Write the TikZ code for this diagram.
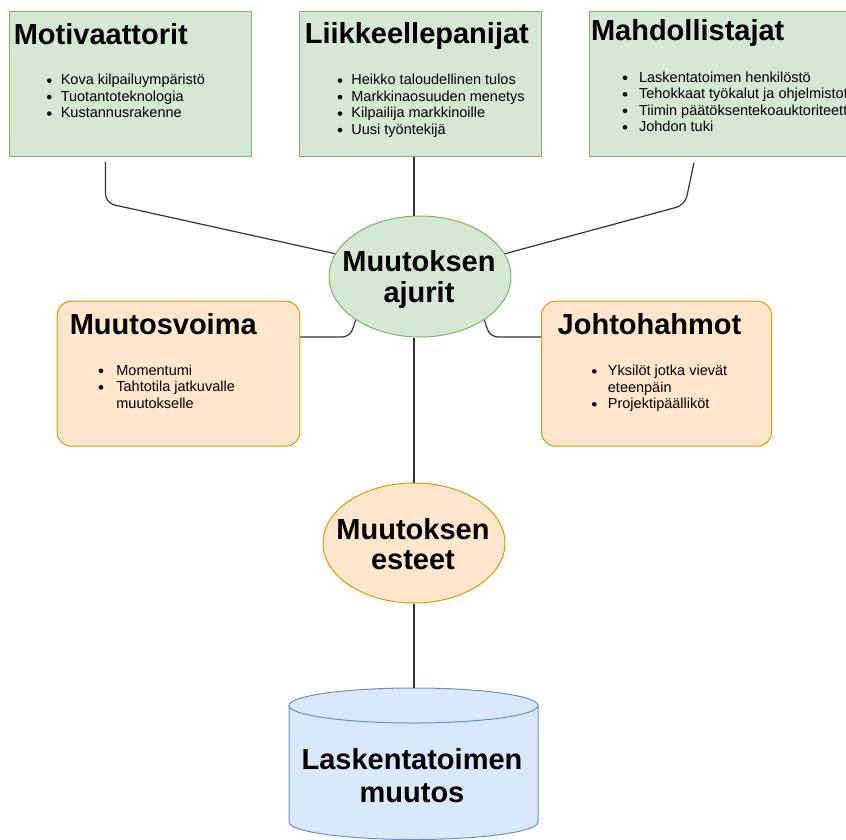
\documentclass[tikz,border=0pt]{standalone}
\usepackage{fontspec}
\setmainfont{Liberation Sans}
\usetikzlibrary{shapes.geometric,calc}

\definecolor{greenfill}{HTML}{D5E8D4}
\definecolor{greenline}{HTML}{82B366}
\definecolor{orangefill}{HTML}{FFE6CC}
\definecolor{orangeline}{HTML}{D79B00}
\definecolor{bluefill}{HTML}{DAE8FC}
\definecolor{blueline}{HTML}{6C8EBF}
\definecolor{wire}{HTML}{333333}

% one bullet line: name, dot x, text x, baseline y, text
\newcommand\bulletitem[5]{%
  \fill[bulletdot] (#2,#4-4.2) circle[radius=2.3];
  \node[itemtext] (#1) at (#3,#4) {#5};}
% continuation line of a bullet (no dot)
\newcommand\bulletmore[4]{%
  \node[itemtext] (#1) at (#2,#3) {#4};}

\begin{document}
\begin{tikzpicture}[x=1pt,y=-1pt,
  greenbox/.style={draw=greenline, fill=greenfill, line width=1pt, inner sep=0pt, anchor=north west},
  orangebox/.style={draw=orangeline, fill=orangefill, line width=1pt, inner sep=0pt, anchor=north west, rounded corners=14pt},
  hub/.style={ellipse, draw=greenline, fill=greenfill, line width=1pt, inner sep=0pt},
  barrier/.style={ellipse, draw=orangeline, fill=orangefill, line width=1pt, inner sep=0pt},
  heading/.style={anchor=base west, inner sep=0pt, font=\fontsize{29}{32}\selectfont\bfseries},
  bigtext/.style={anchor=base, inner sep=0pt, font=\fontsize{29}{32}\selectfont\bfseries},
  itemtext/.style={anchor=base west, inner sep=0pt, font=\fontsize{14.5}{16.5}\selectfont},
  bulletdot/.style={fill=black},
  conn/.style={draw=wire, line width=1.2pt, rounded corners=9pt},
]
\useasboundingbox (0,0) rectangle (846,839);
\begin{scope}
\clip (0,0) rectangle (846,839);

% ---- top row: green boxes
\node[greenbox, minimum width=242pt, minimum height=145pt] (mot) at (8.5,10.7) {};
\node[greenbox, minimum width=241.4pt, minimum height=145pt] (liik) at (299.3,10.7) {};
\node[greenbox, minimum width=280pt, minimum height=145pt] (mah) at (589.3,10.7) {};

\node[heading] (motT) at (13.6,44.3) {Motivaattorit};
\bulletitem{mot1}{49.3}{60.6}{84.8}{Kova kilpailuympäristö}
\bulletitem{mot2}{49.3}{60.6}{101.3}{Tuotantoteknologia}
\bulletitem{mot3}{49.3}{60.6}{117.8}{Kustannusrakenne}

\node[heading] (liikT) at (304.6,43.6) {Liikkeellepanijat};
\bulletitem{liik1}{340}{351.2}{84.8}{Heikko taloudellinen tulos}
\bulletitem{liik2}{340}{351.2}{101.3}{Markkinaosuuden menetys}
\bulletitem{liik3}{340}{351.2}{117.8}{Kilpailija markkinoille}
\bulletitem{liik4}{340}{351.2}{134.3}{Uusi työntekijä}

\node[heading] (mahT) at (590.8,40.8) {Mahdollistajat};
\bulletitem{mah1}{625}{638.9}{82}{Laskentatoimen henkilöstö}
\bulletitem{mah2}{625}{638.9}{98.5}{Tehokkaat työkalut ja ohjelmistot}
\bulletitem{mah3}{625}{638.9}{115}{Tiimin päätöksentekoauktoriteetti}
\bulletitem{mah4}{625}{638.9}{131.5}{Johdon tuki}

% ---- central hub
\node[hub, minimum width=182pt, minimum height=121pt] (ajurit) at (420,276.5) {};
\node[bigtext] (ajuritT1) at (419,271.7) {Muutoksen};
\node[bigtext] (ajuritT2) at (419,302.5) {ajurit};

% ---- middle row: orange boxes
\node[orangebox, minimum width=242.6pt, minimum height=145pt] (mv) at (56.7,300.7) {};
\node[heading] (mvT) at (69.6,334) {Muutosvoima};
\bulletitem{mv1}{101}{116.2}{375}{Momentumi}
\bulletitem{mv2}{101}{116.2}{391.5}{Tahtotila jatkuvalle}
\bulletmore{mv3}{116.2}{408}{muutokselle}

\node[orangebox, minimum width=230pt, minimum height=145pt] (joh) at (541,300.7) {};
\node[heading] (johT) at (557.5,334) {Johtohahmot};
\bulletitem{joh1}{594.3}{607.7}{375.5}{Yksilöt jotka vievät}
\bulletmore{joh2}{607.7}{392}{eteenpäin}
\bulletitem{joh3}{594.3}{607.7}{408.5}{Projektipäälliköt}

% ---- barrier ellipse
\node[barrier, minimum width=182pt, minimum height=120pt] (esteet) at (414,543) {};
\node[bigtext] (esteetT1) at (413,539.5) {Muutoksen};
\node[bigtext] (esteetT2) at (413,569.5) {esteet};

% ---- cylinder
\fill[bluefill] (289,705.5) -- (289,822)
  arc[start angle=180, end angle=0, x radius=124.5, y radius=17.5]
  -- (538,705.5)
  arc[start angle=0, end angle=-180, x radius=124.5, y radius=17.5] -- cycle;
\draw[blueline, line width=1pt] (289,705.5) -- (289,822)
  arc[start angle=180, end angle=0, x radius=124.5, y radius=17.5]
  -- (538,705.5);
\draw[blueline, line width=1pt] (413.5,705.5) ellipse[x radius=124.5, y radius=17.5];
\coordinate (cyltop) at (414,688);
\node[bigtext] (cylT1) at (412,769) {Laskentatoimen};
\node[bigtext] (cylT2) at (412,802) {muutos};

% ---- connectors
\draw[conn] ($(mot.south west)+(97,5)$) -- (105.5,203) -- (ajurit.165);
\draw[conn] ($(liik.south west)+(114.7,0)$) -- ($(ajurit.north)+(-6,0)$);
\draw[conn] ($(mah.south west)+(104.7,6)$) -- (685,205) -- (ajurit.15);
\draw[conn, rounded corners=8pt] ($(mv.north east)+(0,36.3)$) -- (350,337) -- (ajurit.214);
\draw[conn, rounded corners=8pt] ($(joh.north west)+(0,36.3)$) -- (490,337) -- (ajurit.326);
\draw[conn] ($(ajurit.south)+(-6,0)$) -- (esteet.north);
\draw[conn] (esteet.south) -- (cyltop);
\end{scope}
\end{tikzpicture}
\end{document}
